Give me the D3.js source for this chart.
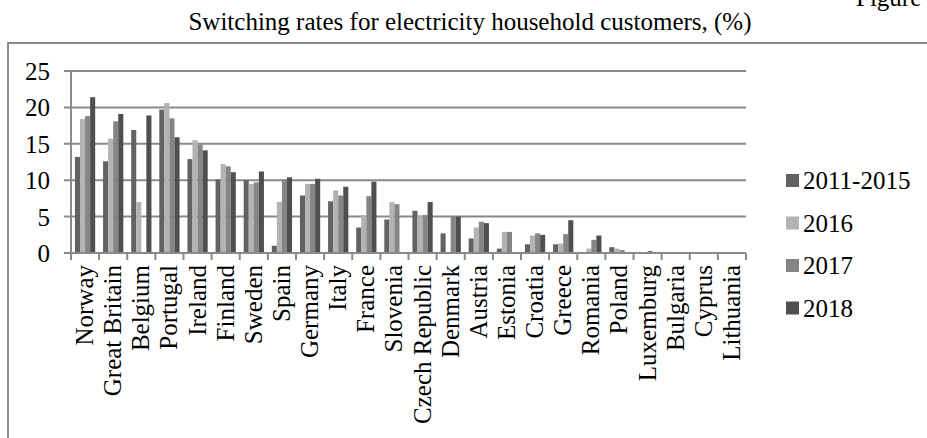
<!DOCTYPE html>
<html>
<head>
<meta charset="utf-8">
<script src="https://cdn.jsdelivr.net/npm/d3@7"></script>
<style>
  html, body { margin: 0; padding: 0; background: #ffffff; }
  svg { display: block; }
  svg text { font-family: "Liberation Serif", "Times New Roman", serif; fill: #000; }
</style>
</head>
<body>
<svg id="chart" width="927" height="438"></svg>
<script>
// Switching rates for electricity household customers, (%)
const countries = ["Norway", "Great Britain", "Belgium", "Portugal", "Ireland", "Finland",
  "Sweden", "Spain", "Germany", "Italy", "France", "Slovenia", "Czech Republic", "Denmark",
  "Austria", "Estonia", "Croatia", "Greece", "Romania", "Poland", "Luxemburg", "Bulgaria",
  "Cyprus", "Lithuania"];

const seriesNames = ["2011-2015", "2016", "2017", "2018"];
const seriesColors = ["#626262", "#b3b3b3", "#858585", "#4f4f4f"];

const rates2011_2015 = [13.2, 12.6, 16.9, 19.7, 12.9, 10.1, 10.0, 1.0, 7.9, 7.1, 3.5, 4.6, 5.8, 2.7, 2.0, 0.6, 1.2, 1.2, 0, 0.8, 0, 0, 0, 0];
const rates2016 = [18.4, 15.7, 7.0, 20.6, 15.5, 12.2, 9.5, 7.0, 9.5, 8.6, 5.2, 7.0, 5.1, 0, 3.5, 2.9, 2.4, 1.3, 0.6, 0.6, 0, 0, 0, 0];
const rates2017 = [18.8, 18.1, 0, 18.5, 14.9, 11.9, 9.7, 10.1, 9.5, 7.9, 7.8, 6.7, 5.2, 5.0, 4.3, 2.9, 2.7, 2.6, 1.8, 0.4, 0.3, 0, 0, 0];
const rates2018 = [21.4, 19.1, 18.9, 15.9, 14.1, 11.1, 11.2, 10.4, 10.2, 9.1, 9.8, 0, 7.0, 5.0, 4.1, 0, 2.5, 4.5, 2.4, 0, 0, 0, 0, 0];

const yTicks = [0, 5, 10, 15, 20, 25];

const seriesValues = [rates2011_2015, rates2016, rates2017, rates2018];

const svg = d3.select("#chart");
const serif = '"Liberation Serif", "Times New Roman", serif';
const gridColor = "#8a8a8a";

// Chart frame
svg.append("rect")
  .attr("x", 8).attr("y", 43)
  .attr("width", 940).attr("height", 420)
  .attr("fill", "none")
  .attr("stroke", "#8c8c8c")
  .attr("stroke-width", 2);

// Title and figure caption
svg.append("text")
  .attr("x", 470).attr("y", 30)
  .attr("text-anchor", "middle")
  .style("font-family", serif)
  .style("font-size", "25px")
  .text("Switching rates for electricity household customers, (%)");

svg.append("text")
  .attr("x", 856).attr("y", 6)
  .style("font-family", serif)
  .style("font-size", "25px")
  .text("Figure 6");

// Plot area bounds
const plotLeft = 71, plotRight = 746, plotTop = 71, plotBottom = 253;
const x0 = d3.scaleBand().domain(countries).range([plotLeft, plotRight]).padding(0);
const cw = x0.bandwidth();
const x1 = d3.scaleBand().domain(seriesNames).range([cw * 0.14, cw * 0.86]).padding(0);
const y = d3.scaleLinear().domain([0, 25]).range([plotBottom, plotTop]);

// Horizontal gridlines with outward ticks
svg.append("g")
  .selectAll("line")
  .data(yTicks)
  .join("line")
  .attr("x1", plotLeft - 7).attr("x2", plotRight)
  .attr("y1", d => y(d)).attr("y2", d => y(d))
  .attr("stroke", gridColor)
  .attr("stroke-width", 2);

// Y axis labels
const yAxis = d3.axisLeft(y).tickValues(yTicks).tickSize(0).tickPadding(0);
const yg = svg.append("g")
  .attr("transform", `translate(${plotLeft - 21},0)`)
  .call(yAxis)
  .attr("font-family", null)
  .attr("font-size", null);
yg.select(".domain").remove();
yg.selectAll("text")
  .style("font-family", serif)
  .style("font-size", "25px")
  .attr("fill", "#000")
  .attr("dy", "0.34em");

// Y axis line
svg.append("line")
  .attr("x1", plotLeft).attr("x2", plotLeft)
  .attr("y1", plotTop).attr("y2", plotBottom)
  .attr("stroke", gridColor).attr("stroke-width", 2);

// Bars
const groups = svg.append("g")
  .selectAll("g")
  .data(countries)
  .join("g")
  .attr("transform", d => `translate(${x0(d)},0)`);

groups.selectAll("rect")
  .data((c, i) => seriesNames.map((s, k) => ({ s, k, v: seriesValues[k][i] })))
  .join("rect")
  .attr("x", d => x1(d.s))
  .attr("width", x1.bandwidth())
  .attr("y", d => y(d.v))
  .attr("height", d => y(0) - y(d.v))
  .attr("fill", d => seriesColors[d.k]);

// X axis with ticks at category boundaries
svg.append("line")
  .attr("x1", plotLeft).attr("x2", plotRight)
  .attr("y1", plotBottom).attr("y2", plotBottom)
  .attr("stroke", gridColor).attr("stroke-width", 2);

const boundaries = countries.map(c => x0(c)).concat([plotRight]);
svg.append("g")
  .selectAll("line")
  .data(boundaries)
  .join("line")
  .attr("x1", d => d).attr("x2", d => d)
  .attr("y1", plotBottom).attr("y2", plotBottom + 7)
  .attr("stroke", gridColor).attr("stroke-width", 2);

// Rotated category labels
svg.append("g")
  .selectAll("text")
  .data(countries)
  .join("text")
  .attr("transform", d => `translate(${x0(d) + cw / 2 + 8},${plotBottom + 12}) rotate(-90)`)
  .attr("text-anchor", "end")
  .style("font-family", serif)
  .style("font-size", "25px")
  .text(d => d);

// Legend
const legend = svg.append("g")
  .selectAll("g")
  .data(seriesNames)
  .join("g")
  .attr("transform", (d, i) => `translate(786,${180.5 + i * 42.5})`);

legend.append("rect")
  .attr("x", 0).attr("y", -6.5)
  .attr("width", 13).attr("height", 13)
  .attr("fill", (d, i) => seriesColors[i]);

legend.append("text")
  .attr("x", 17).attr("y", 8.5)
  .style("font-family", serif)
  .style("font-size", "25px")
  .text(d => d);
</script>
</body>
</html>
